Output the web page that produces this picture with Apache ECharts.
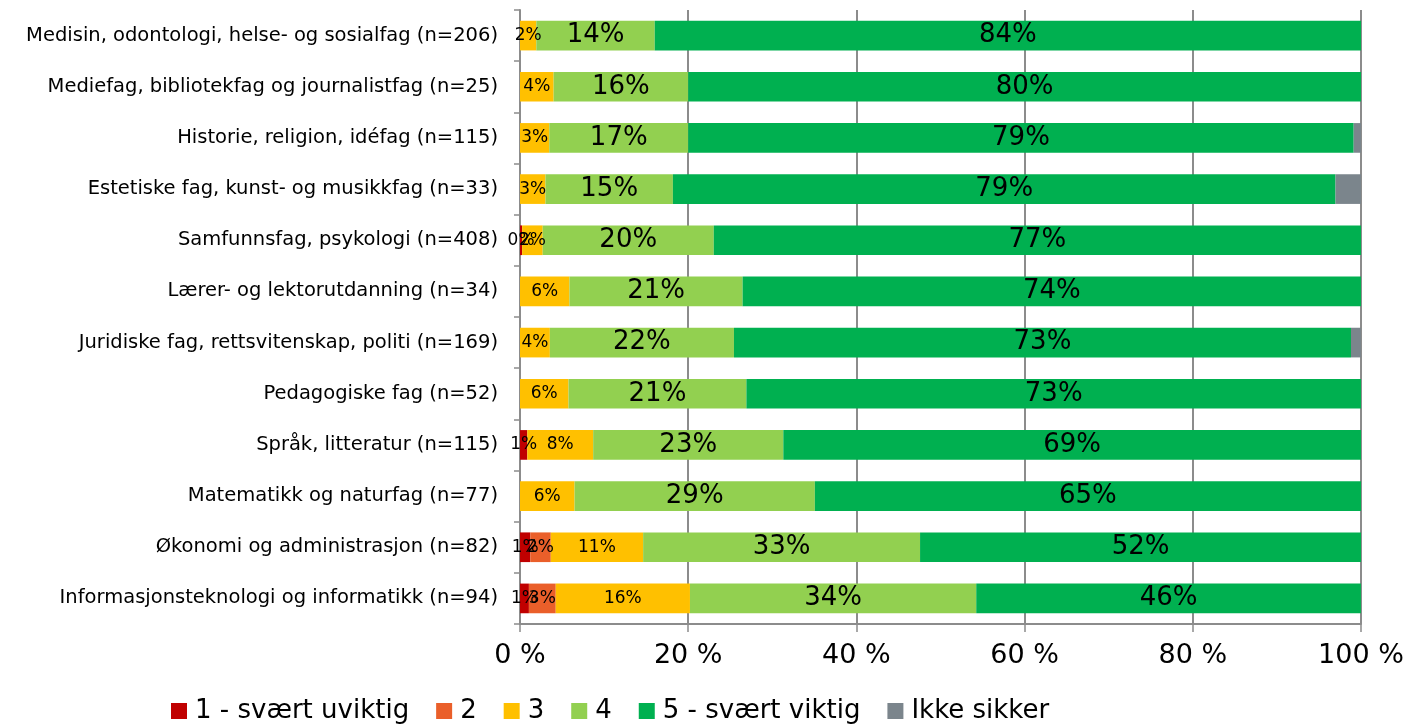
<!DOCTYPE html>
<html>
<head>
<meta charset="utf-8">
<script src="https://cdn.jsdelivr.net/npm/echarts@6/dist/echarts.min.js"></script>
<style>html,body{margin:0;padding:0;background:#fff}#c{width:1409px;height:726px}</style>
</head>
<body>
<div id="c"></div>
<script>
const categories = [
  "Medisin, odontologi, helse- og sosialfag (n=206)",
  "Mediefag, bibliotekfag og journalistfag (n=25)",
  "Historie, religion, idéfag (n=115)",
  "Estetiske fag, kunst- og musikkfag (n=33)",
  "Samfunnsfag, psykologi (n=408)",
  "Lærer- og lektorutdanning (n=34)",
  "Juridiske fag, rettsvitenskap, politi (n=169)",
  "Pedagogiske fag (n=52)",
  "Språk, litteratur (n=115)",
  "Matematikk og naturfag (n=77)",
  "Økonomi og administrasjon (n=82)",
  "Informasjonsteknologi og informatikk (n=94)"
];
const seriesNames = ["1 - svært uviktig", "2", "3", "4", "5 - svært viktig", "Ikke sikker"];
const s1 = [0, 0, 0, 0, 0.25, 0, 0, 0, 0.87, 0, 1.22, 1.06];
const s2 = [0, 0, 0, 0, 0, 0, 0, 0, 0, 0, 2.44, 3.19];
const s3 = [1.94, 4, 3.48, 3.03, 2.45, 5.88, 3.55, 5.77, 7.83, 6.49, 10.98, 15.96];
const s4 = [14.08, 16, 16.52, 15.15, 20.34, 20.59, 21.89, 21.15, 22.61, 28.57, 32.93, 34.04];
const s5 = [83.98, 80, 79.13, 78.79, 76.96, 73.53, 73.37, 73.08, 68.70, 64.94, 52.44, 45.74];
const s6 = [0, 0, 0.87, 3.03, 0, 0, 1.18, 0, 0, 0, 0, 0];
const xTicks = ["0 %", "20 %", "40 %", "60 %", "80 %", "100 %"];

const colors = ["#C00000", "#EA5F2A", "#FFC000", "#92D050", "#00B050", "#7B858C"];
const data = [s1, s2, s3, s4, s5, s6];
const labelSize = [17, 17, 17, 26, 26, 17];
const FONT = "'DejaVu Sans', sans-serif";

const chart = echarts.init(document.getElementById('c'));
chart.setOption({
  animation: false,
  color: colors,
  textStyle: { fontFamily: FONT },
  grid: { left: 520, right: 48, top: 10, bottom: 102, containLabel: false },
  legend: {
    bottom: -3, left: 166,
    itemWidth: 16, itemHeight: 16, itemGap: 27,
    icon: 'rect',
    textStyle: { fontSize: 26, color: '#000', fontFamily: FONT, padding: [0, 0, 0, 3] },
    data: seriesNames
  },
  xAxis: {
    type: 'value', min: 0, max: 100, interval: 20,
    axisLine: { show: true, lineStyle: { color: '#8c8c8c', width: 2 } },
    axisTick: { show: true, length: 8, lineStyle: { color: '#8c8c8c', width: 1.5 } },
    splitLine: { show: true, lineStyle: { color: '#8c8c8c', width: 2 } },
    axisLabel: {
      fontSize: 27, color: '#000', margin: 18,
      formatter: v => xTicks[Math.round(v / 20)]
    }
  },
  yAxis: {
    type: 'category', inverse: true, data: categories,
    axisLine: { show: true, lineStyle: { color: '#8c8c8c', width: 2 } },
    axisTick: { show: true, length: 6, alignWithLabel: false, lineStyle: { color: '#8c8c8c', width: 1.5 } },
    axisLabel: { fontSize: 19.5, color: '#000', margin: 22 }
  },
  series: data.map((d, i) => ({
    name: seriesNames[i], type: 'bar', stack: 'all',
    barCategoryGap: '42%',
    data: d,
    label: {
      show: i !== 5, position: 'inside', color: '#000',
      fontSize: labelSize[i], fontFamily: FONT,
      formatter: p => p.value > 0 ? Math.round(p.value) + '%' : ''
    }
  }))
});
</script>
</body>
</html>
